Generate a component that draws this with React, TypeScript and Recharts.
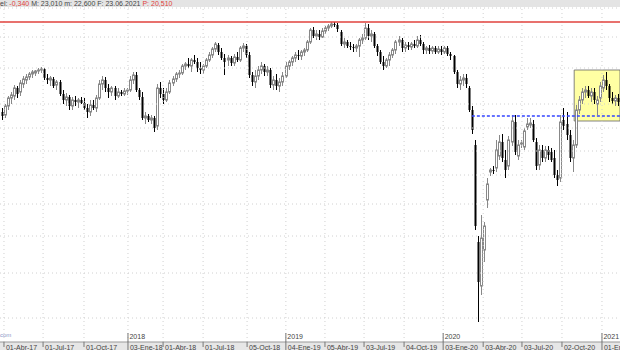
import {
  ComposedChart,
  Bar,
  XAxis,
  YAxis,
  ReferenceLine,
  ReferenceArea,
} from "recharts";

// weekly candles, Mar 2017 -> Feb 2021
const openP = [
  22.4, 22.25, 22.7, 23.1, 23.2, 23.6, 23.4, 23.8, 24.0, 24.15, 24.3, 24.35, 24.45, 24.5, 24.55, 24.1, 24.0, 24.05, 23.75, 23.9,
  23.3, 23.0, 23.15, 22.7, 23.0, 22.9, 23.0, 22.85, 22.6, 22.4, 22.75, 22.6, 23.1, 23.8, 24.0, 23.6, 23.4, 23.6, 23.2, 23.4,
  23.3, 23.45, 23.5, 24.0, 24.25, 23.5, 23.15, 22.1, 22.2, 22.0, 22.1, 21.7, 23.6, 23.3, 23.0, 23.4, 23.85, 24.05, 24.3, 24.35,
  24.7, 24.8, 24.7, 25.0, 24.9, 24.6, 24.5, 24.7, 25.0, 25.25, 25.55, 25.75, 25.4, 25.1, 25.0, 25.1, 24.85, 25.15, 25.0, 25.6,
  25.7, 25.25, 24.25, 23.9, 24.2, 24.5, 24.7, 24.4, 24.5, 23.75, 24.0, 23.7, 23.9, 24.2, 24.7, 24.9, 25.1, 25.25, 25.2, 25.4,
  25.5, 25.9, 26.5, 26.2, 26.3, 26.15, 26.45, 26.6, 26.7, 26.8, 26.75, 26.4, 25.8, 25.9, 25.7, 25.65, 25.6, 25.7, 26.0, 26.1,
  26.6, 26.2, 26.3, 25.7, 25.4, 24.9, 24.7, 25.0, 25.25, 25.5, 25.9, 26.0, 25.6, 25.75, 25.65, 25.8, 25.7, 26.0, 25.8, 25.5,
  25.6, 25.45, 25.6, 25.4, 25.55, 25.4, 25.6, 25.3, 25.2, 24.4, 23.8, 24.0, 24.1, 23.6, 22.5, 20.75, 15.9, 13.7, 15.5, 18.0,
  19.4, 19.5, 19.6, 20.2, 20.9, 20.0, 19.7, 20.9, 21.9, 20.2, 20.8, 20.65, 21.65, 21.75, 21.8, 20.9, 19.75, 20.5, 20.1, 20.5,
  20.4, 20.1, 19.25, 19.1, 22.0, 21.8, 21.25, 20.1, 20.75, 22.5, 23.0, 23.4, 23.5, 23.2, 23.4, 22.8, 23.1, 23.6, 24.0, 23.7,
  23.1, 22.95, 23.1,
];
const highP = [
  22.6, 22.8, 23.2, 23.4, 23.75, 23.7, 24.0, 24.2, 24.3, 24.4, 24.5, 24.5, 24.6, 24.65, 24.6, 24.3, 24.2, 24.15, 24.0, 24.0,
  23.5, 23.35, 23.25, 23.15, 23.2, 23.1, 23.15, 23.1, 22.8, 23.0, 23.0, 23.25, 24.0, 24.2, 24.15, 23.8, 23.7, 23.7, 23.6, 23.5,
  23.6, 23.6, 24.2, 24.4, 24.4, 23.6, 23.4, 22.4, 22.3, 22.25, 22.2, 23.8, 23.9, 23.6, 23.6, 24.0, 24.2, 24.4, 24.5, 24.8,
  24.9, 25.1, 25.1, 25.25, 25.1, 24.9, 24.8, 25.1, 25.4, 25.65, 25.9, 25.85, 25.6, 25.3, 25.25, 25.2, 25.3, 25.4, 25.7, 25.85,
  25.8, 25.4, 24.4, 24.5, 24.7, 24.9, 24.8, 24.7, 24.6, 24.2, 24.3, 24.1, 24.4, 24.9, 25.0, 25.2, 25.4, 25.5, 25.5, 25.6,
  26.0, 26.6, 26.65, 26.5, 26.5, 26.6, 26.7, 26.8, 26.9, 26.9, 26.85, 26.5, 26.1, 26.0, 25.9, 25.8, 25.8, 26.1, 26.3, 26.85,
  26.8, 26.5, 26.4, 25.8, 25.5, 25.2, 25.1, 25.4, 25.6, 26.0, 26.2, 26.1, 25.9, 25.9, 25.9, 26.0, 26.2, 26.25, 25.9, 25.7,
  25.75, 25.7, 25.7, 25.7, 25.7, 25.7, 25.7, 25.4, 25.25, 24.5, 24.2, 24.3, 24.3, 23.7, 22.7, 21.0, 16.2, 17.25, 16.9, 19.1,
  19.6, 19.7, 21.0, 21.25, 21.3, 20.5, 21.2, 22.25, 22.25, 21.0, 21.0, 21.6, 22.1, 22.1, 22.0, 21.1, 20.75, 20.75, 20.7, 20.7,
  20.6, 20.5, 19.5, 22.25, 22.6, 22.4, 21.5, 21.0, 22.75, 23.2, 23.6, 23.7, 23.7, 23.6, 23.6, 23.2, 23.9, 24.25, 24.4, 23.8,
  23.4, 23.25, 23.3,
];
const lowP = [
  22.0, 22.1, 22.5, 22.8, 23.0, 23.1, 23.2, 23.6, 23.8, 24.0, 24.1, 24.2, 24.3, 24.35, 24.0, 23.8, 23.7, 23.6, 23.5, 23.2,
  22.8, 22.7, 22.5, 22.5, 22.7, 22.6, 22.8, 22.5, 22.1, 22.2, 22.5, 22.4, 23.0, 23.5, 23.4, 23.1, 23.2, 23.0, 23.1, 23.2,
  23.2, 23.25, 23.4, 23.8, 23.4, 23.0, 22.0, 21.8, 21.9, 21.8, 21.4, 21.5, 23.1, 22.8, 22.9, 23.3, 23.7, 23.9, 24.1, 24.25,
  24.5, 24.6, 24.4, 24.8, 24.4, 24.3, 24.3, 24.6, 24.9, 25.1, 25.4, 25.25, 25.0, 24.25, 24.7, 24.7, 24.7, 24.9, 24.9, 25.4,
  25.1, 24.1, 23.7, 23.6, 24.0, 24.3, 24.2, 24.2, 23.6, 23.5, 23.5, 23.4, 23.7, 24.1, 24.5, 24.7, 24.9, 25.0, 25.0, 25.2,
  25.4, 25.8, 26.1, 26.0, 26.0, 26.1, 26.3, 26.45, 26.6, 26.65, 26.4, 25.7, 25.6, 25.6, 25.5, 25.4, 25.4, 25.15, 25.8, 26.0,
  26.0, 25.9, 25.6, 25.2, 24.8, 24.5, 24.6, 24.7, 25.1, 25.3, 25.7, 25.4, 25.4, 25.5, 25.5, 25.6, 25.6, 25.7, 25.3, 25.3,
  25.3, 25.3, 25.3, 25.3, 25.25, 25.3, 25.2, 25.0, 24.3, 23.6, 23.5, 23.7, 23.6, 22.4, 21.3, 16.5, 11.9, 13.25, 14.9, 17.6,
  19.2, 19.3, 19.4, 20.0, 19.9, 19.1, 19.5, 20.7, 20.25, 20.0, 20.6, 20.5, 21.5, 21.6, 20.9, 19.5, 19.5, 19.9, 19.9, 20.0,
  19.9, 19.1, 18.7, 18.9, 21.5, 21.0, 19.9, 19.4, 20.6, 22.3, 22.8, 23.1, 23.1, 22.9, 22.8, 22.25, 22.9, 23.4, 23.5, 22.9,
  22.8, 22.7, 22.7,
];
const closeP = [
  22.2, 22.7, 23.1, 23.25, 23.6, 23.3, 23.85, 24.05, 24.15, 24.3, 24.4, 24.45, 24.5, 24.55, 24.1, 24.0, 24.1, 23.7, 23.9, 23.3,
  23.0, 23.15, 22.7, 23.0, 22.9, 23.0, 22.85, 22.6, 22.4, 22.75, 22.6, 23.1, 23.8, 24.0, 23.6, 23.4, 23.6, 23.2, 23.4, 23.3,
  23.45, 23.5, 24.0, 24.25, 23.5, 23.15, 22.1, 22.2, 22.0, 22.1, 21.6, 23.6, 23.3, 23.0, 23.4, 23.85, 24.05, 24.3, 24.35, 24.7,
  24.8, 24.7, 25.0, 24.9, 24.6, 24.5, 24.7, 25.0, 25.25, 25.55, 25.8, 25.4, 25.1, 24.9, 25.1, 24.85, 25.15, 25.0, 25.6, 25.7,
  25.25, 24.25, 23.9, 24.2, 24.5, 24.7, 24.4, 24.5, 23.75, 24.0, 23.7, 23.9, 24.2, 24.7, 24.9, 25.1, 25.25, 25.2, 25.4, 25.5,
  25.9, 26.5, 26.2, 26.3, 26.15, 26.45, 26.6, 26.7, 26.8, 26.75, 26.55, 25.8, 25.9, 25.7, 25.65, 25.6, 25.7, 26.0, 26.1, 26.6,
  26.2, 26.3, 25.7, 25.4, 24.9, 24.7, 25.0, 25.25, 25.5, 25.9, 26.0, 25.6, 25.75, 25.65, 25.8, 25.7, 26.0, 25.8, 25.5, 25.6,
  25.45, 25.6, 25.4, 25.55, 25.4, 25.6, 25.3, 25.2, 24.4, 23.8, 24.0, 24.1, 23.8, 22.5, 21.5, 16.7, 13.9, 16.1, 16.7, 18.8,
  19.5, 19.45, 20.5, 20.9, 20.1, 19.5, 21.0, 21.95, 20.4, 20.75, 20.85, 21.45, 21.8, 21.85, 21.0, 19.7, 20.5, 20.1, 20.5, 20.25,
  20.0, 19.25, 19.0, 21.9, 21.7, 21.25, 20.1, 20.75, 22.5, 23.0, 23.4, 23.5, 23.2, 23.4, 23.0, 23.0, 23.7, 24.0, 23.7, 23.1,
  22.95, 23.1, 22.9,
];

// x axis: week index positions of the date ticks
const tickWeeks = [1.3, 14.1, 27.5, 41.9, 53.4, 66.5, 80.9, 93.6, 106.4, 119.2, 132.3, 145.1, 158.2, 170.9, 184.0, 197.1];
const tickLabels = [
  "01-Abr-17", "01-Jul-17", "01-Oct-17", "03-Ene-18", "01-Abr-18", "01-Jul-18", "05-Oct-18", "04-Ene-19",
  "05-Abr-19", "03-Jul-19", "04-Oct-19", "03-Ene-20", "03-Abr-20", "03-Jul-20", "02-Oct-20", "01-Ene-21",
];
const yearLabels = ["", "", "", "2018", "", "", "", "2019", "", "", "", "2020", "", "", "", "2021"];
const gridPrices = [12.1, 14.35, 16.2, 17.8, 19.25, 20.45, 21.6, 22.8, 24.6, 26.15, 27.6];

const priceMin = 10.9;
const priceMax = 28;
const resistance = 26.9;
const support = 22.2;
const supportFrom = 154.5;
const boxFrom = 188;
const boxTop = 24.5;
const boxBottom = 21.95;
const lastWeek = 203;

const data = openP.map((o, i) => ({
  t: i + 0.5,
  open: o,
  high: highP[i],
  low: lowP[i],
  close: closeP[i],
  range: [lowP[i], highP[i]],
}));

function Candle(props: any) {
  const { x, y, width, height } = props;
  const d = props.payload ?? props;
  const top = Math.min(y, y + height);
  const h = Math.abs(height);
  const span = d.high - d.low || 1;
  const py = (v: number) => top + ((d.high - v) / span) * h;
  const cx = Math.round(x + width / 2) + 0.5;
  const up = d.close >= d.open;
  const b1 = py(Math.max(d.open, d.close));
  const b2 = py(Math.min(d.open, d.close));
  const bh = Math.max(1, b2 - b1);
  return (
    <g>
      <line x1={cx} x2={cx} y1={top} y2={top + h} stroke={up ? "#888" : "#000"} strokeWidth={1} />
      {up ? (
        <rect x={cx - 1} y={b1} width={2} height={bh} fill="#fff" stroke="#888" strokeWidth={1} />
      ) : (
        <rect x={cx - 1} y={b1} width={2} height={bh} fill="#000" />
      )}
    </g>
  );
}

function DateTick(props: any) {
  const { x, payload } = props;
  const i = payload.index;
  const label = tickLabels[i];
  const year = yearLabels[i];
  const base = 342;
  return (
    <g>
      {year ? (
        <>
          <line x1={x} x2={x} y1={base - 9} y2={350} stroke="#777" />
          <text x={x + 1.5} y={base - 3} fontSize={7} fill="#444" fontFamily="Liberation Sans, Arial, sans-serif">
            {year}
          </text>
        </>
      ) : (
        <line x1={x} x2={x} y1={base} y2={base + 5} stroke="#777" />
      )}
      <text x={x + 2} y={base + 7.5} fontSize={7} fill="#444" fontFamily="Liberation Sans, Arial, sans-serif">
        {label}
      </text>
    </g>
  );
}

export default function App() {
  return (
    <div style={{ position: "relative", width: 620, height: 350, background: "#ffffff", overflow: "hidden" }}>
      <style>{"body{margin:0}"}</style>
      <div style={{ position: "absolute", left: 0, top: 342, width: 620, height: 8, background: "#e6e6e6" }} />
      <ComposedChart
        width={620}
        height={350}
        data={data}
        margin={{ top: 0, right: 0, left: 0, bottom: 0 }}
      >
        <XAxis
          dataKey="t"
          type="number"
          domain={[0, lastWeek]}
          ticks={tickWeeks}
          interval={0}
          height={8}
          tickLine={false}
          axisLine={{ stroke: "#999" }}
          tick={<DateTick />}
          allowDataOverflow
        />
        <YAxis hide type="number" domain={[priceMin, priceMax]} allowDataOverflow />
        {gridPrices.map((p) => (
          <ReferenceLine key={"h" + p} y={p} stroke="#d0d0d0" strokeDasharray="1 3" />
        ))}
        {tickWeeks.map((w) => (
          <ReferenceLine key={"v" + w} x={w} stroke="#d0d0d0" strokeDasharray="1 3" />
        ))}
        <ReferenceArea
          x1={boxFrom}
          x2={lastWeek}
          y1={boxBottom}
          y2={boxTop}
          fill="#ffff99"
          fillOpacity={0.9}
          stroke="#666"
          strokeWidth={0.8}
        />
        <ReferenceLine y={resistance} stroke="#e0423c" strokeWidth={1.5} />
        <ReferenceLine
          segment={[{ x: supportFrom, y: support }, { x: lastWeek, y: support }]}
          stroke="#3344ff"
          strokeDasharray="3 2"
          strokeWidth={1.5}
        />
        <Bar dataKey="range" barSize={3} shape={<Candle />} isAnimationActive={false} />
      </ComposedChart>
      <div
        style={{
          position: "absolute",
          left: 0,
          top: 0,
          width: 620,
          height: 7,
          background: "#e4e4e4",
          fontFamily: "Liberation Sans, Arial, sans-serif",
          fontSize: 7,
          lineHeight: "7px",
          color: "#444",
          whiteSpace: "pre",
        }}
      >
        <span>el: </span>
        <span style={{ color: "#e0423c" }}>-0,340</span>
        <span> M: 23,010 m: 22,600 F: 23.06.2021 </span>
        <span style={{ color: "#e0423c" }}>P: 20,510</span>
      </div>
      <div
        style={{
          position: "absolute",
          left: 0,
          top: 332,
          fontFamily: "Liberation Sans, Arial, sans-serif",
          fontSize: 6,
          color: "#8a96c8",
        }}
      >
        com
      </div>
    </div>
  );
}
